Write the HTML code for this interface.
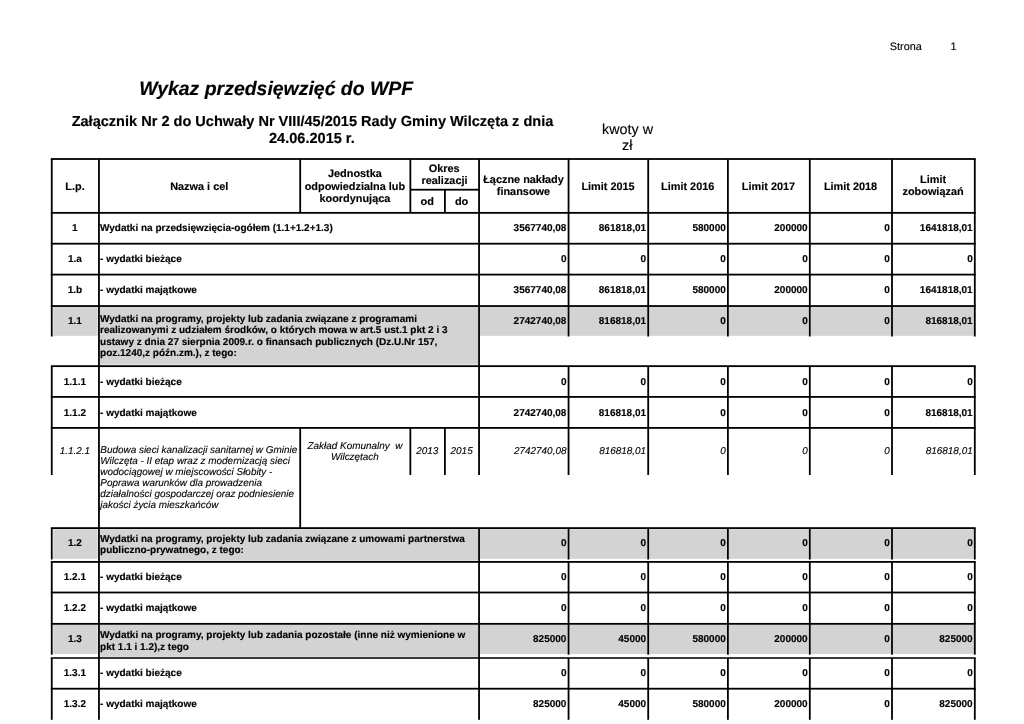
<!DOCTYPE html>
<html lang="pl">
<head>
<meta charset="utf-8">
<title>Wykaz przedsięwzięć do WPF</title>
<style>
html,body{margin:0;padding:0;background:#fff;}
body{width:1024px;height:724px;position:relative;overflow:hidden;}
#page{position:absolute;left:0;top:0;width:1024px;height:724px;display:block;background:#fff;}
#page text{font-family:"Liberation Sans", Arial, Helvetica, sans-serif;font-weight:bold;fill:#000;stroke:#000;stroke-width:0.15px;text-rendering:geometricPrecision;white-space:pre;}
#page text.n{font-weight:normal;stroke-width:0.12px;}
#page text.i{font-style:italic;}
#page text.c{text-anchor:middle;}
#page text.r{text-anchor:end;}
</style>
</head>
<body>
<svg id="page" width="1024" height="724" viewBox="0 0 1024 724">
<g id="fills">
<rect x="53.25" y="307.15" width="44.40" height="28.65" fill="#d3d3d3"/>
<rect x="99.85" y="307.15" width="378.30" height="57.45" fill="#d3d3d3"/>
<rect x="479.95" y="307.15" width="87.70" height="28.65" fill="#d3d3d3"/>
<rect x="569.45" y="307.15" width="77.85" height="28.65" fill="#d3d3d3"/>
<rect x="649.10" y="307.15" width="77.90" height="28.65" fill="#d3d3d3"/>
<rect x="728.80" y="307.15" width="80.10" height="28.65" fill="#d3d3d3"/>
<rect x="810.70" y="307.15" width="80.40" height="28.65" fill="#d3d3d3"/>
<rect x="892.90" y="307.15" width="81.00" height="28.65" fill="#d3d3d3"/>
<rect x="53.25" y="529.20" width="44.40" height="29.60" fill="#d3d3d3"/>
<rect x="99.85" y="529.20" width="378.30" height="31.50" fill="#d3d3d3"/>
<rect x="479.95" y="529.20" width="87.70" height="29.60" fill="#d3d3d3"/>
<rect x="569.45" y="529.20" width="77.85" height="29.60" fill="#d3d3d3"/>
<rect x="649.10" y="529.20" width="77.90" height="29.60" fill="#d3d3d3"/>
<rect x="728.80" y="529.20" width="80.10" height="29.60" fill="#d3d3d3"/>
<rect x="810.70" y="529.20" width="80.40" height="29.60" fill="#d3d3d3"/>
<rect x="892.90" y="529.20" width="81.00" height="29.60" fill="#d3d3d3"/>
<rect x="53.25" y="624.95" width="44.40" height="29.05" fill="#d3d3d3"/>
<rect x="99.85" y="624.95" width="378.30" height="31.85" fill="#d3d3d3"/>
<rect x="479.95" y="624.95" width="87.70" height="29.05" fill="#d3d3d3"/>
<rect x="569.45" y="624.95" width="77.85" height="29.05" fill="#d3d3d3"/>
<rect x="649.10" y="624.95" width="77.90" height="29.05" fill="#d3d3d3"/>
<rect x="728.80" y="624.95" width="80.10" height="29.05" fill="#d3d3d3"/>
<rect x="810.70" y="624.95" width="80.40" height="29.05" fill="#d3d3d3"/>
<rect x="892.90" y="624.95" width="81.00" height="29.05" fill="#d3d3d3"/>
</g>
<g id="lines">
<rect x="50.85" y="158.10" width="924.85" height="1.80" fill="#000"/>
<rect x="50.85" y="211.95" width="924.85" height="1.80" fill="#000"/>
<rect x="410.35" y="188.80" width="68.70" height="1.80" fill="#000"/>
<rect x="50.85" y="159.00" width="1.80" height="53.85" fill="#000"/>
<rect x="98.05" y="159.00" width="1.80" height="53.85" fill="#000"/>
<rect x="299.30" y="159.00" width="1.80" height="53.85" fill="#000"/>
<rect x="409.45" y="159.00" width="1.80" height="53.85" fill="#000"/>
<rect x="444.00" y="189.70" width="1.80" height="23.15" fill="#000"/>
<rect x="478.15" y="159.00" width="1.80" height="53.85" fill="#000"/>
<rect x="567.65" y="159.00" width="1.80" height="53.85" fill="#000"/>
<rect x="647.30" y="159.00" width="1.80" height="53.85" fill="#000"/>
<rect x="727.00" y="159.00" width="1.80" height="53.85" fill="#000"/>
<rect x="808.90" y="159.00" width="1.80" height="53.85" fill="#000"/>
<rect x="891.10" y="159.00" width="1.80" height="53.85" fill="#000"/>
<rect x="973.90" y="159.00" width="1.80" height="53.85" fill="#000"/>
<rect x="50.85" y="212.85" width="1.80" height="30.85" fill="#000"/>
<rect x="98.05" y="212.85" width="1.80" height="30.85" fill="#000"/>
<rect x="478.15" y="212.85" width="1.80" height="30.85" fill="#000"/>
<rect x="567.65" y="212.85" width="1.80" height="30.85" fill="#000"/>
<rect x="647.30" y="212.85" width="1.80" height="30.85" fill="#000"/>
<rect x="727.00" y="212.85" width="1.80" height="30.85" fill="#000"/>
<rect x="808.90" y="212.85" width="1.80" height="30.85" fill="#000"/>
<rect x="891.10" y="212.85" width="1.80" height="30.85" fill="#000"/>
<rect x="973.90" y="212.85" width="1.80" height="30.85" fill="#000"/>
<rect x="50.85" y="242.80" width="924.85" height="1.80" fill="#000"/>
<rect x="50.85" y="243.70" width="1.80" height="30.90" fill="#000"/>
<rect x="98.05" y="243.70" width="1.80" height="30.90" fill="#000"/>
<rect x="478.15" y="243.70" width="1.80" height="30.90" fill="#000"/>
<rect x="567.65" y="243.70" width="1.80" height="30.90" fill="#000"/>
<rect x="647.30" y="243.70" width="1.80" height="30.90" fill="#000"/>
<rect x="727.00" y="243.70" width="1.80" height="30.90" fill="#000"/>
<rect x="808.90" y="243.70" width="1.80" height="30.90" fill="#000"/>
<rect x="891.10" y="243.70" width="1.80" height="30.90" fill="#000"/>
<rect x="973.90" y="243.70" width="1.80" height="30.90" fill="#000"/>
<rect x="50.85" y="273.70" width="924.85" height="1.80" fill="#000"/>
<rect x="50.85" y="274.60" width="1.80" height="31.45" fill="#000"/>
<rect x="98.05" y="274.60" width="1.80" height="31.45" fill="#000"/>
<rect x="478.15" y="274.60" width="1.80" height="31.45" fill="#000"/>
<rect x="567.65" y="274.60" width="1.80" height="31.45" fill="#000"/>
<rect x="647.30" y="274.60" width="1.80" height="31.45" fill="#000"/>
<rect x="727.00" y="274.60" width="1.80" height="31.45" fill="#000"/>
<rect x="808.90" y="274.60" width="1.80" height="31.45" fill="#000"/>
<rect x="891.10" y="274.60" width="1.80" height="31.45" fill="#000"/>
<rect x="973.90" y="274.60" width="1.80" height="31.45" fill="#000"/>
<rect x="50.85" y="305.15" width="924.85" height="1.80" fill="#000"/>
<rect x="50.85" y="306.05" width="1.80" height="30.45" fill="#000"/>
<rect x="567.65" y="306.05" width="1.80" height="30.45" fill="#000"/>
<rect x="647.30" y="306.05" width="1.80" height="30.45" fill="#000"/>
<rect x="727.00" y="306.05" width="1.80" height="30.45" fill="#000"/>
<rect x="808.90" y="306.05" width="1.80" height="30.45" fill="#000"/>
<rect x="891.10" y="306.05" width="1.80" height="30.45" fill="#000"/>
<rect x="973.90" y="306.05" width="1.80" height="30.45" fill="#000"/>
<rect x="98.05" y="306.05" width="1.80" height="60.10" fill="#000"/>
<rect x="478.15" y="306.05" width="1.80" height="60.10" fill="#000"/>
<rect x="50.85" y="365.25" width="924.85" height="1.80" fill="#000"/>
<rect x="50.85" y="366.15" width="1.80" height="30.75" fill="#000"/>
<rect x="98.05" y="366.15" width="1.80" height="30.75" fill="#000"/>
<rect x="478.15" y="366.15" width="1.80" height="30.75" fill="#000"/>
<rect x="567.65" y="366.15" width="1.80" height="30.75" fill="#000"/>
<rect x="647.30" y="366.15" width="1.80" height="30.75" fill="#000"/>
<rect x="727.00" y="366.15" width="1.80" height="30.75" fill="#000"/>
<rect x="808.90" y="366.15" width="1.80" height="30.75" fill="#000"/>
<rect x="891.10" y="366.15" width="1.80" height="30.75" fill="#000"/>
<rect x="973.90" y="366.15" width="1.80" height="30.75" fill="#000"/>
<rect x="50.85" y="396.00" width="924.85" height="1.80" fill="#000"/>
<rect x="50.85" y="396.90" width="1.80" height="31.00" fill="#000"/>
<rect x="98.05" y="396.90" width="1.80" height="31.00" fill="#000"/>
<rect x="478.15" y="396.90" width="1.80" height="31.00" fill="#000"/>
<rect x="567.65" y="396.90" width="1.80" height="31.00" fill="#000"/>
<rect x="647.30" y="396.90" width="1.80" height="31.00" fill="#000"/>
<rect x="727.00" y="396.90" width="1.80" height="31.00" fill="#000"/>
<rect x="808.90" y="396.90" width="1.80" height="31.00" fill="#000"/>
<rect x="891.10" y="396.90" width="1.80" height="31.00" fill="#000"/>
<rect x="973.90" y="396.90" width="1.80" height="31.00" fill="#000"/>
<rect x="50.85" y="427.00" width="924.85" height="1.80" fill="#000"/>
<rect x="50.85" y="427.90" width="1.80" height="47.10" fill="#000"/>
<rect x="409.45" y="427.90" width="1.80" height="47.10" fill="#000"/>
<rect x="444.00" y="427.90" width="1.80" height="47.10" fill="#000"/>
<rect x="478.15" y="427.90" width="1.80" height="47.10" fill="#000"/>
<rect x="567.65" y="427.90" width="1.80" height="47.10" fill="#000"/>
<rect x="647.30" y="427.90" width="1.80" height="47.10" fill="#000"/>
<rect x="727.00" y="427.90" width="1.80" height="47.10" fill="#000"/>
<rect x="808.90" y="427.90" width="1.80" height="47.10" fill="#000"/>
<rect x="891.10" y="427.90" width="1.80" height="47.10" fill="#000"/>
<rect x="973.90" y="427.90" width="1.80" height="47.10" fill="#000"/>
<rect x="98.05" y="427.90" width="1.80" height="100.20" fill="#000"/>
<rect x="299.30" y="427.90" width="1.80" height="100.20" fill="#000"/>
<rect x="50.85" y="527.20" width="924.85" height="1.80" fill="#000"/>
<rect x="50.85" y="528.10" width="1.80" height="31.40" fill="#000"/>
<rect x="567.65" y="528.10" width="1.80" height="31.40" fill="#000"/>
<rect x="647.30" y="528.10" width="1.80" height="31.40" fill="#000"/>
<rect x="727.00" y="528.10" width="1.80" height="31.40" fill="#000"/>
<rect x="808.90" y="528.10" width="1.80" height="31.40" fill="#000"/>
<rect x="891.10" y="528.10" width="1.80" height="31.40" fill="#000"/>
<rect x="973.90" y="528.10" width="1.80" height="31.40" fill="#000"/>
<rect x="98.05" y="528.10" width="1.80" height="33.80" fill="#000"/>
<rect x="478.15" y="528.10" width="1.80" height="33.80" fill="#000"/>
<rect x="50.85" y="561.00" width="924.85" height="1.80" fill="#000"/>
<rect x="50.85" y="561.90" width="1.80" height="30.60" fill="#000"/>
<rect x="98.05" y="561.90" width="1.80" height="30.60" fill="#000"/>
<rect x="478.15" y="561.90" width="1.80" height="30.60" fill="#000"/>
<rect x="567.65" y="561.90" width="1.80" height="30.60" fill="#000"/>
<rect x="647.30" y="561.90" width="1.80" height="30.60" fill="#000"/>
<rect x="727.00" y="561.90" width="1.80" height="30.60" fill="#000"/>
<rect x="808.90" y="561.90" width="1.80" height="30.60" fill="#000"/>
<rect x="891.10" y="561.90" width="1.80" height="30.60" fill="#000"/>
<rect x="973.90" y="561.90" width="1.80" height="30.60" fill="#000"/>
<rect x="50.85" y="591.60" width="924.85" height="1.80" fill="#000"/>
<rect x="50.85" y="592.50" width="1.80" height="31.35" fill="#000"/>
<rect x="98.05" y="592.50" width="1.80" height="31.35" fill="#000"/>
<rect x="478.15" y="592.50" width="1.80" height="31.35" fill="#000"/>
<rect x="567.65" y="592.50" width="1.80" height="31.35" fill="#000"/>
<rect x="647.30" y="592.50" width="1.80" height="31.35" fill="#000"/>
<rect x="727.00" y="592.50" width="1.80" height="31.35" fill="#000"/>
<rect x="808.90" y="592.50" width="1.80" height="31.35" fill="#000"/>
<rect x="891.10" y="592.50" width="1.80" height="31.35" fill="#000"/>
<rect x="973.90" y="592.50" width="1.80" height="31.35" fill="#000"/>
<rect x="50.85" y="622.95" width="924.85" height="1.80" fill="#000"/>
<rect x="50.85" y="623.85" width="1.80" height="30.85" fill="#000"/>
<rect x="567.65" y="623.85" width="1.80" height="30.85" fill="#000"/>
<rect x="647.30" y="623.85" width="1.80" height="30.85" fill="#000"/>
<rect x="727.00" y="623.85" width="1.80" height="30.85" fill="#000"/>
<rect x="808.90" y="623.85" width="1.80" height="30.85" fill="#000"/>
<rect x="891.10" y="623.85" width="1.80" height="30.85" fill="#000"/>
<rect x="973.90" y="623.85" width="1.80" height="30.85" fill="#000"/>
<rect x="98.05" y="623.85" width="1.80" height="34.15" fill="#000"/>
<rect x="478.15" y="623.85" width="1.80" height="34.15" fill="#000"/>
<rect x="50.85" y="657.23" width="924.85" height="1.55" fill="#000"/>
<rect x="50.85" y="658.00" width="1.80" height="30.70" fill="#000"/>
<rect x="98.05" y="658.00" width="1.80" height="30.70" fill="#000"/>
<rect x="478.15" y="658.00" width="1.80" height="30.70" fill="#000"/>
<rect x="567.65" y="658.00" width="1.80" height="30.70" fill="#000"/>
<rect x="647.30" y="658.00" width="1.80" height="30.70" fill="#000"/>
<rect x="727.00" y="658.00" width="1.80" height="30.70" fill="#000"/>
<rect x="808.90" y="658.00" width="1.80" height="30.70" fill="#000"/>
<rect x="891.10" y="658.00" width="1.80" height="30.70" fill="#000"/>
<rect x="973.90" y="658.00" width="1.80" height="30.70" fill="#000"/>
<rect x="50.85" y="687.80" width="924.85" height="1.80" fill="#000"/>
<rect x="50.85" y="688.70" width="1.80" height="31.10" fill="#000"/>
<rect x="98.05" y="688.70" width="1.80" height="31.10" fill="#000"/>
<rect x="478.15" y="688.70" width="1.80" height="31.10" fill="#000"/>
<rect x="567.65" y="688.70" width="1.80" height="31.10" fill="#000"/>
<rect x="647.30" y="688.70" width="1.80" height="31.10" fill="#000"/>
<rect x="727.00" y="688.70" width="1.80" height="31.10" fill="#000"/>
<rect x="808.90" y="688.70" width="1.80" height="31.10" fill="#000"/>
<rect x="891.10" y="688.70" width="1.80" height="31.10" fill="#000"/>
<rect x="973.90" y="688.70" width="1.80" height="31.10" fill="#000"/>
</g>
<g id="labels">
<text x="75.00" y="189.70" font-size="10.9" class="c">L.p.</text>
<text x="199.22" y="189.60" font-size="10.9" class="c">Nazwa i cel</text>
<text x="354.92" y="176.90" font-size="10.9" class="c">Jednostka</text>
<text x="354.92" y="189.50" font-size="10.9" class="c">odpowiedzialna lub</text>
<text x="354.92" y="201.90" font-size="10.9" class="c">koordynująca</text>
<text x="444.20" y="171.80" font-size="10.9" class="c">Okres</text>
<text x="444.50" y="184.30" font-size="10.9" class="c">realizacji</text>
<text x="427.27" y="204.50" font-size="10.9" class="c">od</text>
<text x="461.62" y="204.50" font-size="10.9" class="c">do</text>
<text x="523.45" y="183.10" font-size="10.9" class="c">Łączne nakłady</text>
<text x="523.45" y="195.30" font-size="10.9" class="c">finansowe</text>
<text x="608.02" y="189.60" font-size="10.9" class="c">Limit 2015</text>
<text x="687.70" y="189.60" font-size="10.9" class="c">Limit 2016</text>
<text x="768.50" y="189.60" font-size="10.9" class="c">Limit 2017</text>
<text x="850.55" y="189.60" font-size="10.9" class="c">Limit 2018</text>
<text x="933.05" y="183.10" font-size="10.9" class="c">Limit</text>
<text x="933.05" y="195.40" font-size="10.9" class="c">zobowiązań</text>
<text x="889.80" y="50.00" font-size="10.9" class="n">Strona</text>
<text x="950.40" y="50.00" font-size="10.9" class="n">1</text>
<text x="276.20" y="95.00" font-size="19.45" class="i c">Wykaz przedsięwzięć do WPF</text>
<text x="312.50" y="126.00" font-size="14.55" class="c">Załącznik Nr 2 do Uchwały Nr VIII/45/2015 Rady Gminy Wilczęta z dnia</text>
<text x="311.90" y="143.00" font-size="14.55" class="c">24.06.2015 r.</text>
<text x="627.50" y="134.00" font-size="14.35" class="n c">kwoty w</text>
<text x="627.30" y="150.00" font-size="14.35" class="n c">zł</text>
<text x="74.90" y="231.00" font-size="10.0" class="c">1</text>
<text x="100.05" y="231.00" font-size="10.0">Wydatki na przedsięwzięcia-ogółem (1.1+1.2+1.3)</text>
<text x="566.45" y="231.00" font-size="10.0" class="r">3567740,08</text>
<text x="646.10" y="231.00" font-size="10.0" class="r">861818,01</text>
<text x="725.80" y="231.00" font-size="10.0" class="r">580000</text>
<text x="807.70" y="231.00" font-size="10.0" class="r">200000</text>
<text x="889.90" y="231.00" font-size="10.0" class="r">0</text>
<text x="972.70" y="231.00" font-size="10.0" class="r">1641818,01</text>
<text x="74.90" y="262.00" font-size="10.0" class="c">1.a</text>
<text x="100.05" y="262.00" font-size="10.0">- wydatki bieżące</text>
<text x="566.45" y="262.00" font-size="10.0" class="r">0</text>
<text x="646.10" y="262.00" font-size="10.0" class="r">0</text>
<text x="725.80" y="262.00" font-size="10.0" class="r">0</text>
<text x="807.70" y="262.00" font-size="10.0" class="r">0</text>
<text x="889.90" y="262.00" font-size="10.0" class="r">0</text>
<text x="972.70" y="262.00" font-size="10.0" class="r">0</text>
<text x="74.90" y="293.00" font-size="10.0" class="c">1.b</text>
<text x="100.05" y="293.00" font-size="10.0">- wydatki majątkowe</text>
<text x="566.45" y="293.00" font-size="10.0" class="r">3567740,08</text>
<text x="646.10" y="293.00" font-size="10.0" class="r">861818,01</text>
<text x="725.80" y="293.00" font-size="10.0" class="r">580000</text>
<text x="807.70" y="293.00" font-size="10.0" class="r">200000</text>
<text x="889.90" y="293.00" font-size="10.0" class="r">0</text>
<text x="972.70" y="293.00" font-size="10.0" class="r">1641818,01</text>
<text x="74.90" y="324.00" font-size="10.0" class="c">1.1</text>
<text x="100.05" y="322.00" font-size="10.0">Wydatki na programy, projekty lub zadania związane z programami</text>
<text x="100.05" y="333.00" font-size="10.0">realizowanymi z udziałem środków, o których mowa w art.5 ust.1 pkt 2 i 3</text>
<text x="100.05" y="344.60" font-size="10.0">ustawy z dnia 27 sierpnia 2009.r. o finansach publicznych (Dz.U.Nr 157,</text>
<text x="100.05" y="356.00" font-size="10.0">poz.1240,z późn.zm.), z tego:</text>
<text x="566.45" y="324.00" font-size="10.0" class="r">2742740,08</text>
<text x="646.10" y="324.00" font-size="10.0" class="r">816818,01</text>
<text x="725.80" y="324.00" font-size="10.0" class="r">0</text>
<text x="807.70" y="324.00" font-size="10.0" class="r">0</text>
<text x="889.90" y="324.00" font-size="10.0" class="r">0</text>
<text x="972.70" y="324.00" font-size="10.0" class="r">816818,01</text>
<text x="74.90" y="385.00" font-size="10.0" class="c">1.1.1</text>
<text x="100.05" y="385.00" font-size="10.0">- wydatki bieżące</text>
<text x="566.45" y="385.00" font-size="10.0" class="r">0</text>
<text x="646.10" y="385.00" font-size="10.0" class="r">0</text>
<text x="725.80" y="385.00" font-size="10.0" class="r">0</text>
<text x="807.70" y="385.00" font-size="10.0" class="r">0</text>
<text x="889.90" y="385.00" font-size="10.0" class="r">0</text>
<text x="972.70" y="385.00" font-size="10.0" class="r">0</text>
<text x="74.90" y="416.00" font-size="10.0" class="c">1.1.2</text>
<text x="100.05" y="416.00" font-size="10.0">- wydatki majątkowe</text>
<text x="566.45" y="416.00" font-size="10.0" class="r">2742740,08</text>
<text x="646.10" y="416.00" font-size="10.0" class="r">816818,01</text>
<text x="725.80" y="416.00" font-size="10.0" class="r">0</text>
<text x="807.70" y="416.00" font-size="10.0" class="r">0</text>
<text x="889.90" y="416.00" font-size="10.0" class="r">0</text>
<text x="972.70" y="416.00" font-size="10.0" class="r">816818,01</text>
<text x="74.90" y="454.00" font-size="9.93" class="n i c">1.1.2.1</text>
<text x="100.35" y="453.00" font-size="9.93" class="n i">Budowa sieci kanalizacji sanitarnej w Gminie</text>
<text x="100.35" y="464.00" font-size="9.93" class="n i">Wilczęta - II etap wraz z modernizacją sieci</text>
<text x="100.35" y="475.00" font-size="9.93" class="n i">wodociągowej w miejscowości Słobity -</text>
<text x="100.35" y="486.00" font-size="9.93" class="n i">Poprawa warunków dla prowadzenia</text>
<text x="100.35" y="497.00" font-size="9.93" class="n i">działalności gospodarczej oraz podniesienie</text>
<text x="100.35" y="508.00" font-size="9.93" class="n i">jakości życia mieszkańców</text>
<text x="354.92" y="449.00" font-size="9.93" class="n i c">Zakład Komunalny&#160; w</text>
<text x="354.92" y="460.00" font-size="9.93" class="n i c">Wilczętach</text>
<text x="427.27" y="454.00" font-size="9.93" class="n i c">2013</text>
<text x="461.62" y="454.00" font-size="9.93" class="n i c">2015</text>
<text x="566.45" y="454.00" font-size="9.93" class="n i r">2742740,08</text>
<text x="646.10" y="454.00" font-size="9.93" class="n i r">816818,01</text>
<text x="725.80" y="454.00" font-size="9.93" class="n i r">0</text>
<text x="807.70" y="454.00" font-size="9.93" class="n i r">0</text>
<text x="889.90" y="454.00" font-size="9.93" class="n i r">0</text>
<text x="972.70" y="454.00" font-size="9.93" class="n i r">816818,01</text>
<text x="74.90" y="546.00" font-size="10.0" class="c">1.2</text>
<text x="100.05" y="542.00" font-size="10.0">Wydatki na programy, projekty lub zadania związane z umowami partnerstwa</text>
<text x="100.05" y="553.00" font-size="10.0">publiczno-prywatnego, z tego:</text>
<text x="566.45" y="546.00" font-size="10.0" class="r">0</text>
<text x="646.10" y="546.00" font-size="10.0" class="r">0</text>
<text x="725.80" y="546.00" font-size="10.0" class="r">0</text>
<text x="807.70" y="546.00" font-size="10.0" class="r">0</text>
<text x="889.90" y="546.00" font-size="10.0" class="r">0</text>
<text x="972.70" y="546.00" font-size="10.0" class="r">0</text>
<text x="74.90" y="580.00" font-size="10.0" class="c">1.2.1</text>
<text x="100.05" y="580.00" font-size="10.0">- wydatki bieżące</text>
<text x="566.45" y="580.00" font-size="10.0" class="r">0</text>
<text x="646.10" y="580.00" font-size="10.0" class="r">0</text>
<text x="725.80" y="580.00" font-size="10.0" class="r">0</text>
<text x="807.70" y="580.00" font-size="10.0" class="r">0</text>
<text x="889.90" y="580.00" font-size="10.0" class="r">0</text>
<text x="972.70" y="580.00" font-size="10.0" class="r">0</text>
<text x="74.90" y="611.00" font-size="10.0" class="c">1.2.2</text>
<text x="100.05" y="611.00" font-size="10.0">- wydatki majątkowe</text>
<text x="566.45" y="611.00" font-size="10.0" class="r">0</text>
<text x="646.10" y="611.00" font-size="10.0" class="r">0</text>
<text x="725.80" y="611.00" font-size="10.0" class="r">0</text>
<text x="807.70" y="611.00" font-size="10.0" class="r">0</text>
<text x="889.90" y="611.00" font-size="10.0" class="r">0</text>
<text x="972.70" y="611.00" font-size="10.0" class="r">0</text>
<text x="74.90" y="642.00" font-size="10.0" class="c">1.3</text>
<text x="100.05" y="638.00" font-size="10.0">Wydatki na programy, projekty lub zadania pozostałe (inne niż wymienione w</text>
<text x="100.05" y="650.00" font-size="10.0">pkt 1.1 i 1.2),z tego</text>
<text x="566.45" y="642.00" font-size="10.0" class="r">825000</text>
<text x="646.10" y="642.00" font-size="10.0" class="r">45000</text>
<text x="725.80" y="642.00" font-size="10.0" class="r">580000</text>
<text x="807.70" y="642.00" font-size="10.0" class="r">200000</text>
<text x="889.90" y="642.00" font-size="10.0" class="r">0</text>
<text x="972.70" y="642.00" font-size="10.0" class="r">825000</text>
<text x="74.90" y="676.00" font-size="10.0" class="c">1.3.1</text>
<text x="100.05" y="676.00" font-size="10.0">- wydatki bieżące</text>
<text x="566.45" y="676.00" font-size="10.0" class="r">0</text>
<text x="646.10" y="676.00" font-size="10.0" class="r">0</text>
<text x="725.80" y="676.00" font-size="10.0" class="r">0</text>
<text x="807.70" y="676.00" font-size="10.0" class="r">0</text>
<text x="889.90" y="676.00" font-size="10.0" class="r">0</text>
<text x="972.70" y="676.00" font-size="10.0" class="r">0</text>
<text x="74.90" y="707.00" font-size="10.0" class="c">1.3.2</text>
<text x="100.05" y="707.00" font-size="10.0">- wydatki majątkowe</text>
<text x="566.45" y="707.00" font-size="10.0" class="r">825000</text>
<text x="646.10" y="707.00" font-size="10.0" class="r">45000</text>
<text x="725.80" y="707.00" font-size="10.0" class="r">580000</text>
<text x="807.70" y="707.00" font-size="10.0" class="r">200000</text>
<text x="889.90" y="707.00" font-size="10.0" class="r">0</text>
<text x="972.70" y="707.00" font-size="10.0" class="r">825000</text>
</g>
</svg>
</body>
</html>
